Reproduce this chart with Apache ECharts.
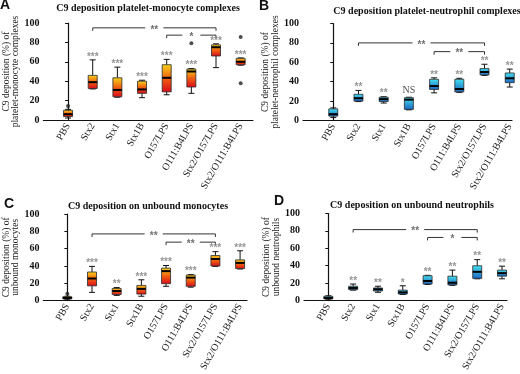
<!DOCTYPE html>
<html>
<head>
<meta charset="utf-8">
<script src="https://cdn.jsdelivr.net/npm/echarts@6/dist/echarts.min.js"></script>
<style>
html,body{margin:0;padding:0;background:#fff;}
#main{width:520px;height:374px;}
</style>
</head>
<body>
<div id="main"></div>
<script>
// categories shared by the four panels
var categories = ['PBS','Stx2','Stx1','Stx1B','O157LPS','O111:B4LPS','Stx2/O157LPS','Stx2/O111:B4LPS'];
var yTicks = [0, 20, 40, 60, 80, 100];

// box values: [min, Q1, median, Q3, max]
var boxA = [[2,3.5,6,10,11],[32,32.5,39,46,62],[23.5,24,31,43.5,54.5],[23,27.5,31.5,40,41],
            [26,29,43.5,57,62.5],[27.5,34,50,52.5,53],[54,66,75,77.5,78.5],[56.5,57,60,63.5,64]];
var boxB = [[3,4.5,6.5,12,13],[19.5,20,23,27,31],[18,19.5,22,24,24.5],[11,11.5,21.5,23.5,24],
            [28.5,32,35.5,42.5,44],[29,29.5,32.5,42.5,43.5],[46.5,47,50,53.5,58],[34.5,39,43.5,49,53]];
var boxC = [[1.5,2,3,4.5,5],[9.5,17,25.5,33,39.5],[6,7,11,14,15],[5,7.5,13.5,17.5,24],
            [16.5,19.5,34,37.5,40.5],[15.5,16.5,26.5,29.5,30],[39.5,40,48,52,56.5],[36.5,37,43.5,47,57.5]];
var boxD = [[1.5,2,3,5,5.5],[12,12.5,14.5,16.5,19],[9.5,11,13,14.5,16.5],[7,7.5,9.5,12,17],
            [18.5,19,22.5,28.5,29],[17.5,18,20.5,28,35],[25,25.5,33,40,47],[25,28,31.5,35,39.5]];

// outliers: [category index, value]
var outA = [[0,14.5],[5,79],[7,85.5],[7,38]];
var outB = [];
var outC = [[0,8]];
var outD = [];

// significance labels above each box
var sigA = ['','***','***','***','***','***','***','***'];
var sigB = ['','**','**','NS','**','**','**','**'];
var sigC = ['','***','**','***','***','***','***','***'];
var sigD = ['','**','**','*','**','**','**','**'];

// brackets: [from index, to index, level] and their labels
var brkA = [[1,6,95],[4,6,87.5]];   var brkTxtA = ['**','*'];
var brkB = [[1,6,80],[4,6,71]];     var brkTxtB = ['**','**'];
var brkC = [[1,6,77],[4,6,67.5]];   var brkTxtC = ['**','**'];
var brkD = [[1,6,81.5],[4,6,72.5]]; var brkTxtD = ['**','*'];

var panels = [
  {letter:'A', title:'C9 deposition platelet-monocyte complexes', yname:'C9 deposition (%) of\nplatelet-monocyte complexes',
   box:boxA, out:outA, sig:sigA, brk:brkA, brkTxt:brkTxtA, warm:true,
   grid:{left:39, top:23, width:214, height:97}, xr:[-1,7.5], tx:148, ty:8.5, lx:5, ly:5},
  {letter:'B', title:'C9 deposition platelet-neutrophil complexes', yname:'C9 deposition (%) of\nplatelet-neutrophil complexes',
   box:boxB, out:outB, sig:sigB, brk:brkB, brkTxt:brkTxtB, warm:false,
   grid:{left:303, top:23.5, width:209, height:97}, xr:[-1.2,7.09], tx:427, ty:11, lx:264, ly:6.5},
  {letter:'C', title:'C9 deposition on unbound monocytes', yname:'C9 deposition (%) of\nunbound monocytes',
   box:boxC, out:outC, sig:sigC, brk:brkC, brkTxt:brkTxtC, warm:true,
   grid:{left:40, top:214, width:207, height:97.5}, xr:[-0.97,7.28], tx:148, ty:206, lx:9, ly:204.5},
  {letter:'D', title:'C9 deposition on unbound neutrophils', yname:'C9 deposition (%) of\nunbound neutrophils',
   box:boxD, out:outD, sig:sigD, brk:brkD, brkTxt:brkTxtD, warm:false,
   grid:{left:304, top:213.5, width:203, height:97}, xr:[-0.98,7.2], tx:412, ty:205, lx:279, ly:201}
];

function boxFill(warm){
  return warm
    ? new echarts.graphic.LinearGradient(0,0,0,1,[{offset:0,color:'#f7d51a'},{offset:0.5,color:'#f06010'},{offset:1,color:'#d80a1c'}])
    : new echarts.graphic.LinearGradient(0,0,0,1,[{offset:0,color:'#45e3ef'},{offset:1,color:'#1b63c2'}]);
}

function makeBoxRender(warm){
  return function(params, api){
    var x = api.value(0);
    var lo = api.coord([x, api.value(1)]);
    var q1 = api.coord([x, api.value(2)]);
    var md = api.coord([x, api.value(3)]);
    var q3 = api.coord([x, api.value(4)]);
    var hi = api.coord([x, api.value(5)]);
    var cx = lo[0], hw = 4.5, cw = 3;
    var ln = {stroke:'#111', lineWidth:1};
    return {type:'group', children:[
      {type:'line', shape:{x1:cx,y1:hi[1],x2:cx,y2:q3[1]}, style:ln},
      {type:'line', shape:{x1:cx-cw,y1:hi[1],x2:cx+cw,y2:hi[1]}, style:ln},
      {type:'line', shape:{x1:cx,y1:q1[1],x2:cx,y2:lo[1]}, style:ln},
      {type:'line', shape:{x1:cx-cw,y1:lo[1],x2:cx+cw,y2:lo[1]}, style:ln},
      {type:'rect', shape:{x:cx-hw,y:q3[1],width:hw*2,height:Math.max(q1[1]-q3[1],1)},
       style:{fill:boxFill(warm), stroke:'#2a2a2a', lineWidth:0.8}},
      {type:'line', shape:{x1:cx-hw,y1:md[1],x2:cx+hw,y2:md[1]}, style:{stroke:'#000', lineWidth:2}}
    ]};
  };
}

function makeBracketRender(texts){
  return function(params, api){
    var a = api.coord([api.value(0), api.value(2)]);
    var b = api.coord([api.value(1), api.value(2)]);
    var mid = (a[0] + b[0]) / 2, gap = 9;
    var st = {stroke:'#333', lineWidth:1, fill:null};
    return {type:'group', children:[
      {type:'polyline', shape:{points:[[a[0],a[1]+3],[a[0],a[1]],[mid-gap,a[1]]]}, style:st},
      {type:'polyline', shape:{points:[[mid+gap,a[1]],[b[0],b[1]],[b[0],b[1]+3]]}, style:st},
      {type:'text', style:{text:texts[params.dataIndex], x:mid, y:a[1]+2, align:'center', verticalAlign:'middle',
        font:'bold 10px "Liberation Sans", sans-serif', fill:'#707070'}}
    ]};
  };
}

var grids = [], xAxes = [], yAxes = [], series = [], graphics = [];

panels.forEach(function(p, k){
  grids.push(p.grid);
  xAxes.push({
    type:'value', gridIndex:k, min:p.xr[0], max:p.xr[1],
    axisLine:{show:true, lineStyle:{color:'#111', width:1.2}},
    axisTick:{show:false}, splitLine:{show:false},
    axisLabel:{customValues:categories.map(function(c,i){return i;}), rotate:60, margin:4,
      fontFamily:'"Liberation Serif", serif', fontSize:10, color:'#222',
      formatter:function(v){ return categories[Math.round(v)]; }}
  });
  yAxes.push({
    type:'value', gridIndex:k, min:yTicks[0], max:yTicks[yTicks.length-1], interval:20,
    name:p.yname, nameLocation:'middle', nameGap:19,
    nameTextStyle:{fontFamily:'"Liberation Serif", serif', fontSize:9.5, lineHeight:9.5, color:'#222'},
    axisLine:{show:true, lineStyle:{color:'#111', width:1.2}},
    axisTick:{show:true, length:3, lineStyle:{color:'#111'}},
    splitLine:{show:false},
    axisLabel:{margin:4, fontFamily:'"Liberation Serif", serif', fontWeight:'bold', fontSize:10, color:'#111'}
  });
  series.push({
    type:'custom', xAxisIndex:k, yAxisIndex:k,
    data:p.box.map(function(b,i){ return [i].concat(b); }),
    encode:{x:0, y:[1,2,3,4,5]},
    renderItem:makeBoxRender(p.warm), z:3
  });
  series.push({
    type:'scatter', xAxisIndex:k, yAxisIndex:k, symbol:'circle', symbolSize:4,
    itemStyle:{color:'#222'}, data:p.out, z:4
  });
  series.push({
    type:'scatter', xAxisIndex:k, yAxisIndex:k, symbolSize:0, silent:true,
    data:p.box.map(function(b,i){ return [i, b[4]]; }),
    label:{show:true, position:'top', distance:-2,
      formatter:function(d){
        var s = p.sig[d.dataIndex];
        if (!s) return '';
        return s === 'NS' ? '{ns|NS}' : '{s|' + s + '}';
      },
      rich:{
        s:{fontFamily:'"Liberation Sans", sans-serif', fontWeight:'bold', fontSize:10, color:'#7a7a7a'},
        ns:{fontFamily:'"Liberation Serif", serif', fontSize:10, color:'#222', padding:[0,0,4,0]}
      }}
  });
  series.push({
    type:'custom', xAxisIndex:k, yAxisIndex:k, data:p.brk, encode:{x:[0,1], y:2},
    renderItem:makeBracketRender(p.brkTxt), z:2
  });
  graphics.push({type:'text', x:p.tx, y:p.ty, style:{text:p.title, align:'center', verticalAlign:'middle',
    font:'bold 10px "Liberation Serif", serif', fill:'#111'}});
  graphics.push({type:'text', x:p.lx, y:p.ly, style:{text:p.letter, align:'center', verticalAlign:'middle',
    font:'bold 14px "Liberation Sans", sans-serif', fill:'#111'}});
});

var myChart = echarts.init(document.getElementById('main'));
var option = {
  animation:false,
  grid:grids,
  xAxis:xAxes,
  yAxis:yAxes,
  series:series,
  graphic:graphics
};
myChart.setOption(option);
window.onresize = function(){ myChart.resize(); };
</script>
</body>
</html>
